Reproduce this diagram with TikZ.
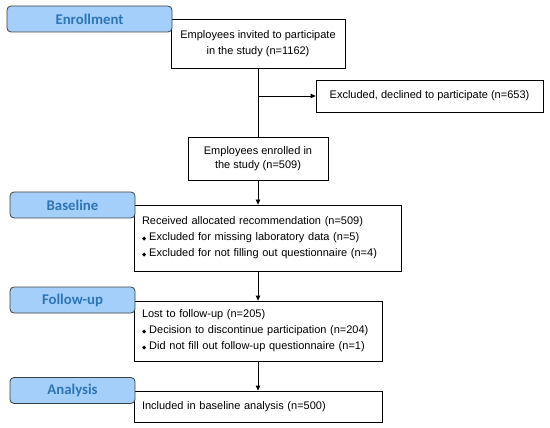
\documentclass[tikz,border=0pt]{standalone}
\usepackage{fontspec}
\setmainfont{Liberation Sans}
\newfontfamily\carlito{Carlito}
\newfontfamily\dejavu{DejaVu Sans}
\usetikzlibrary{positioning,arrows.meta}
\definecolor{stagefill}{HTML}{A3CFFA}
\definecolor{stagetext}{HTML}{2E75B6}
\newcommand{\dmd}{{\dejavu\fontsize{5.5}{5}\selectfont ◆}\hspace{3pt}}

\begin{document}
\begin{tikzpicture}[x=1pt, y=-1pt,
    box/.style = {draw, line width=0.8pt, inner sep=0pt, align=center, font=\fontsize{11}{16}\selectfont},
    list/.style = {box, align=left, inner xsep=8pt},
    stage/.style = {draw=black!75, line width=0.8pt, rounded corners=4pt, fill=stagefill, text=stagetext,
                    font=\carlito\bfseries\fontsize{14.8}{16}\selectfont, minimum height=26pt, minimum width=125pt},
    arr/.style = {-{Triangle[length=5pt,width=4.5pt]}}]
      \useasboundingbox (0,0) rectangle (550,428);
      % boxes
      \node[box, minimum width=174pt, minimum height=49pt] (invited) at (258,43.5) {Employees invited to participate\\in the study (n=1162)};
      \node[box, minimum width=227pt, minimum height=32pt] (declined) at (429.5,96) {Excluded, declined to participate (n=653)};
      \node[box, minimum width=140pt, minimum height=43pt, font=\fontsize{11}{14}\selectfont] (enrolled) at (258,158.5) {Employees enrolled in\\the study (n=509)};
      \node[list, text width=251pt, minimum height=66pt] (received) at (267.5,238) {Received allocated recommendation (n=509)\\\dmd Excluded for missing laboratory data (n=5)\\\dmd Excluded for not filling out questionnaire (n=4)};
      \node[list, text width=232pt, minimum height=60pt] (lost) at (258,331) {Lost to follow-up (n=205)\\\dmd Decision to discontinue participation (n=204)\\\dmd Did not fill out follow-up questionnaire (n=1)};
      \node[list, text width=232pt, minimum height=31pt] (included) at (258,406.5) {Included in baseline analysis (n=500)};
      % connectors
      \coordinate (branch) at (258,96);
      \draw[line width=0.8pt] (invited) -- (enrolled);
      \draw[line width=0.8pt, arr] (branch) -- (declined);
      \draw[line width=0.8pt, arr] (enrolled) -- (enrolled |- received.north);
      \draw[line width=0.8pt, arr] (received.south -| lost) -- (lost);
      \draw[line width=0.8pt, arr] (lost) -- (included);
      % stages
      \node[stage, minimum width=165pt] (enrollment) at (89.5,19) {Enrollment};
      \node[stage] (baseline) at (72.5,205) {Baseline};
      \node[stage] (followup) at (72.5,300) {Follow-up};
      \node[stage] (analysis) at (72.5,390.5) {Analysis};
\end{tikzpicture}
\end{document}
